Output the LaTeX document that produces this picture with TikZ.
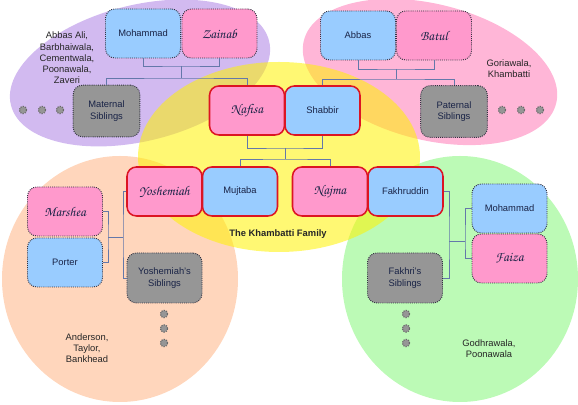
\documentclass[tikz,border=0pt]{standalone}
\usepackage[T1]{fontenc}
\usepackage{fontspec}
\setmainfont{Liberation Sans}

\definecolor{purpclan}{RGB}{210,186,240}
\definecolor{pinkclan}{RGB}{255,182,215}
\definecolor{peachclan}{RGB}{255,214,188}
\definecolor{greenclan}{RGB}{188,250,182}
\definecolor{yellowclan}{RGB}{255,243,0}
\definecolor{nodeblue}{RGB}{153,204,255}
\definecolor{nodepink}{RGB}{255,153,204}
\definecolor{nodegray}{RGB}{150,150,150}
\definecolor{dotline}{RGB}{50,50,65}
\definecolor{coreline}{RGB}{220,20,35}
\definecolor{linkblue}{RGB}{100,120,170}
\definecolor{nametext}{RGB}{25,35,70}

\newcommand{\cursive}[1]{{\fontsize{11.5}{13}\usefont{T1}{pzc}{mb}{it}#1}}

\begin{document}
\begin{tikzpicture}[x=0.03cm, y=-0.03cm,
		bl/.style  = {rectangle, rounded corners=8pt, fill=nodeblue, draw=dotline, densely dotted, line width=0.8pt,
			minimum width=2.25cm, minimum height=1.47cm, text=nametext, align=center, font=\fontsize{8}{9.6}\selectfont},
		pk/.style  = {bl, fill=nodepink},
		gr/.style  = {bl, fill=nodegray, minimum width=2cm, minimum height=1.55cm},
		blr/.style = {bl, solid, draw=coreline, line width=1.3pt},
		pkr/.style = {blr, fill=nodepink},
		gear/.style = {circle, fill=nodegray, draw=nodegray!70!black, densely dotted, line width=1pt, minimum size=0.22cm, inner sep=0pt},
		txt/.style = {align=center, text=black!85, font=\fontsize{8}{9.6}\selectfont},
		ln/.style  = {draw=linkblue, line width=0.8pt}
		]
		\useasboundingbox (0,0) rectangle (578,405);
		
		%Clans
		\fill[purpclan, rotate around={14:(140,73)}]	(140,73)	ellipse [x radius=133, y radius=68];
		\fill[pinkclan, rotate around={-14:(430,72)}]	(430,72)	ellipse [x radius=130, y radius=68];
		\fill[peachclan]	(120,279)	ellipse [x radius=118, y radius=123];
		\fill[greenclan]	(460,279)	ellipse [x radius=118, y radius=123];
		\fill[yellowclan, fill opacity=0.55]	(279,157)	ellipse [x radius=141, y radius=95];
		
		%Nodes
		\node[bl]	(moh)	at	(143,33.5)	{Mohammad};
		\node[pk]	(zai)	at	(219.5,33.5)	{\cursive{Zainab}};
		\node[gr]	(matsib)	at	(106.5,111)	{Maternal\\Siblings};
		
		\node[bl]	(abb)	at	(358,35.5)	{Abbas};
		\node[pk]	(bat)	at	(434,35.5)	{\cursive{Batul}};
		\node[gr]	(patsib)	at	(454,111.5)	{Paternal\\Siblings};
		
		\node[pkr]	(naf)	at	(247,110.5)	{\cursive{Nafisa}};
		\node[blr]	(shab)	at	(322.5,110.5)	{Shabbir};
		
		\node[pkr]	(yosh)	at	(164.5,191.5)	{\cursive{Yoshemiah}};
		\node[blr]	(muj)	at	(240,191.5)	{Mujtaba};
		\node[pkr]	(naj)	at	(330,191.5)	{\cursive{Najma}};
		\node[blr]	(fakh)	at	(405.5,191.5)	{Fakhruddin};
		
		\node[pk]	(mar)	at	(65,211.5)	{\cursive{Marshea}};
		\node[bl]	(por)	at	(65,262.5)	{Porter};
		\node[gr, minimum width=2.25cm, minimum height=1.5cm]	(ysib)	at	(164.5,278)	{Yoshemiah's\\Siblings};
		
		\node[bl]	(moh2)	at	(509.5,208.5)	{Mohammad};
		\node[pk]	(fai)	at	(509.5,258.5)	{\cursive{Faiza}};
		\node[gr, minimum width=2.25cm, minimum height=1.5cm]	(fsib)	at	(405,278)	{Fakhri's\\Siblings};
		
		% gears
		\node[gear]	(gm1)	at	(23,110)	{};
		\node[gear]	(gm2)	at	(42,110)	{};
		\node[gear]	(gm3)	at	(60,110)	{};
		\node[gear]	(gp1)	at	(502,110)	{};
		\node[gear]	(gp2)	at	(521,110)	{};
		\node[gear]	(gp3)	at	(540,110)	{};
		\node[gear]	(gy1)	at	(164,314)	{};
		\node[gear]	(gy2)	at	(164,328.5)	{};
		\node[gear]	(gy3)	at	(164,343)	{};
		\node[gear]	(gf1)	at	(406,314)	{};
		\node[gear]	(gf2)	at	(406,328.5)	{};
		\node[gear]	(gf3)	at	(406,343)	{};
		
		% clan names
		\node[txt]	(matclan)	at	(67,58)	{Abbas Ali,\\Barbhaiwala,\\Cementwala,\\Poonawala,\\Zaveri};
		\node[txt]	(patclan)	at	(509,68.5)	{Goriawala,\\Khambatti};
		\node[txt, font=\fontsize{8}{9.6}\selectfont\bfseries]	(family)	at	(278,234)	{The Khambatti Family};
		\node[txt]	(marclan)	at	(87,348)	{Anderson,\\Taylor,\\Bankhead};
		\node[txt]	(faiclan)	at	(489,348.5)	{Godhrawala,\\Poonawala};
		
		%Lines
		\coordinate	(mz)	at	(181,66);
		\coordinate	(mzb)	at	(181,78);
		\coordinate	(ab)	at	(396,69);
		\coordinate	(abb2)	at	(396,79);
		\coordinate	(ns)	at	(285,148);
		\coordinate	(nsb)	at	(285,159);
		\coordinate	(mp)	at	(108,237);
		\coordinate	(mpb)	at	(123,237);
		\coordinate	(fk)	at	(449,241);
		\coordinate	(fkb)	at	(465,241);
		
		\draw[ln]	(moh.south)	|-	(mz)	-|	(zai.south);
		\draw[ln]	(mz)	--	(mzb);
		\draw[ln]	(matsib.north)	|-	(mzb)	-|	(naf.north);
		
		\draw[ln]	(abb.south)	|-	(ab)	-|	(bat.south);
		\draw[ln]	(ab)	--	(abb2);
		\draw[ln]	(shab.north)	|-	(abb2)	-|	(patsib.north);
		
		\draw[ln]	(naf.south)	|-	(ns)	-|	(shab.south);
		\draw[ln]	(ns)	--	(nsb);
		\draw[ln]	(muj.north)	|-	(nsb)	-|	(naj.north);
		
		\draw[ln]	(mar.east)	-|	(mp)	|-	(por.east);
		\draw[ln]	(mp)	--	(mpb);
		\draw[ln]	(yosh.west)	-|	(mpb)	|-	(ysib.west);
		
		\draw[ln]	(fakh.east)	-|	(fk)	|-	(fsib.east);
		\draw[ln]	(fk)	--	(fkb);
		\draw[ln]	(moh2.west)	-|	(fkb)	|-	(fai.west);
	\end{tikzpicture}
\end{document}
